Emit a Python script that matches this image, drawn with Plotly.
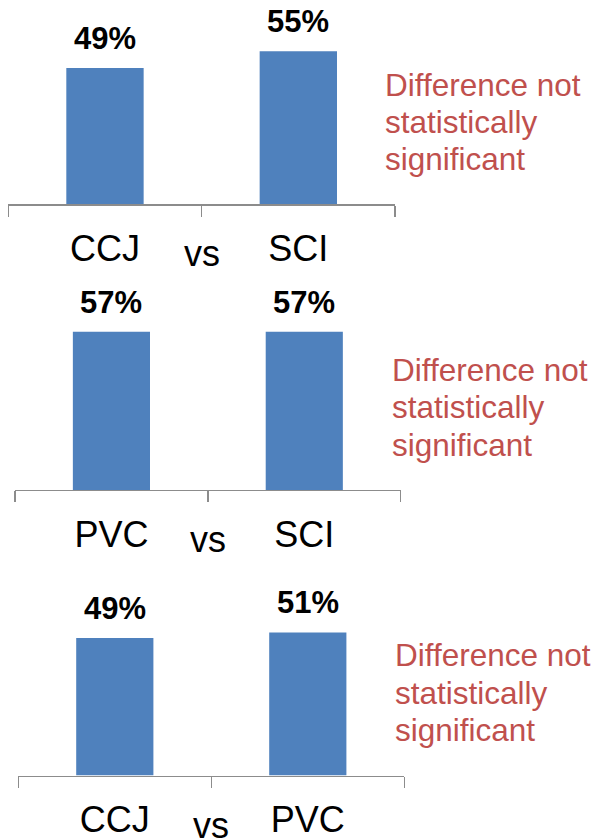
import plotly.graph_objects as go

# ---- data ----
panel1_categories = ["CCJ", "SCI"]
panel1_values = [49, 55]
panel2_categories = ["PVC", "SCI"]
panel2_values = [57, 57]
panel3_categories = ["CCJ", "PVC"]
panel3_values = [49, 51]
note_lines = ["Difference not", "statistically", "significant"]
separator_label = "vs"

panels = [
    (panel1_categories, panel1_values),
    (panel2_categories, panel2_values),
    (panel3_categories, panel3_values),
]

# ---- layout geometry (window pixels) ----
W, H = 596, 840


def px(x):
    return x / W


def py(y):
    return 1 - y / H


# (x_left, x_right, baseline_y, px_per_unit, note_x, note_baseline)
geom = [
    (8.3, 395.0, 205.0, 2.79, 385.0, 95.0),
    (15.0, 400.7, 492.3, 2.79, 391.7, 381.7),
    (18.3, 404.3, 779.3, 2.82, 395.0, 668.3),
]
YMAX = 70

BLUE = "#4F81BD"
RED = "#C0504D"
AXIS_GREY = "#8C8C8C"
FONT = "Liberation Sans, Arial, sans-serif"

fig = go.Figure()
annotations = []

for i, ((cats, vals), (xl, xr, base, ppu, nx, nb)) in enumerate(zip(panels, geom)):
    n = i + 1
    xa = "x" if n == 1 else f"x{n}"
    ya = "y" if n == 1 else f"y{n}"
    fig.add_trace(go.Bar(
        x=cats, y=vals, marker_color=BLUE, marker_line_width=0,
        xaxis=xa, yaxis=ya, showlegend=False, hoverinfo="skip",
    ))
    top = base - YMAX * ppu
    fig.layout[f"xaxis{'' if n == 1 else n}"] = dict(
        domain=[px(xl), px(xr)], anchor=ya, type="category",
        range=[-0.5, 1.5], showgrid=False, zeroline=False,
        showline=True, linecolor=AXIS_GREY, linewidth=1.5,
        ticks="outside", tickson="boundaries", ticklen=11,
        tickcolor=AXIS_GREY, tickwidth=1.5,
        tickfont=dict(family=FONT, size=36, color="black"),
        ticklabelstandoff=12, fixedrange=True,
    )
    fig.layout[f"yaxis{'' if n == 1 else n}"] = dict(
        domain=[py(base), py(top)], anchor=xa,
        range=[0, YMAX], visible=False, fixedrange=True,
    )
    # value labels
    for c, v in zip(cats, vals):
        annotations.append(dict(
            x=c, y=v, xref=xa, yref=ya, text=f"<b>{v}%</b>",
            showarrow=False, yanchor="bottom", xanchor="center", yshift=10,
            font=dict(family=FONT, size=31, color="black"),
        ))
    # "vs" between categories
    annotations.append(dict(
        x=px((xl + xr) / 2), y=py(base + 56.7), xref="paper", yref="paper",
        text=separator_label, showarrow=False, xanchor="center", yanchor="bottom",
        yshift=-16, font=dict(family=FONT, size=36, color="black"),
    ))
    # note text
    for k, line in enumerate(note_lines):
        annotations.append(dict(
            x=px(nx), y=py(nb + k * 37.6), xref="paper", yref="paper",
            text=line, showarrow=False, xanchor="left", yanchor="bottom",
            yshift=-10, xshift=-2,
            font=dict(family=FONT, size=31.5, color=RED),
        ))

fig.update_layout(
    width=W, height=H, margin=dict(l=0, r=0, t=0, b=0),
    paper_bgcolor="white", plot_bgcolor="white",
    bargap=0.6, annotations=annotations,
)

fig.write_html(
    "out.html",
    config={"displayModeBar": False, "staticPlot": True},
    post_script="document.body.style.margin='0px';",
)
